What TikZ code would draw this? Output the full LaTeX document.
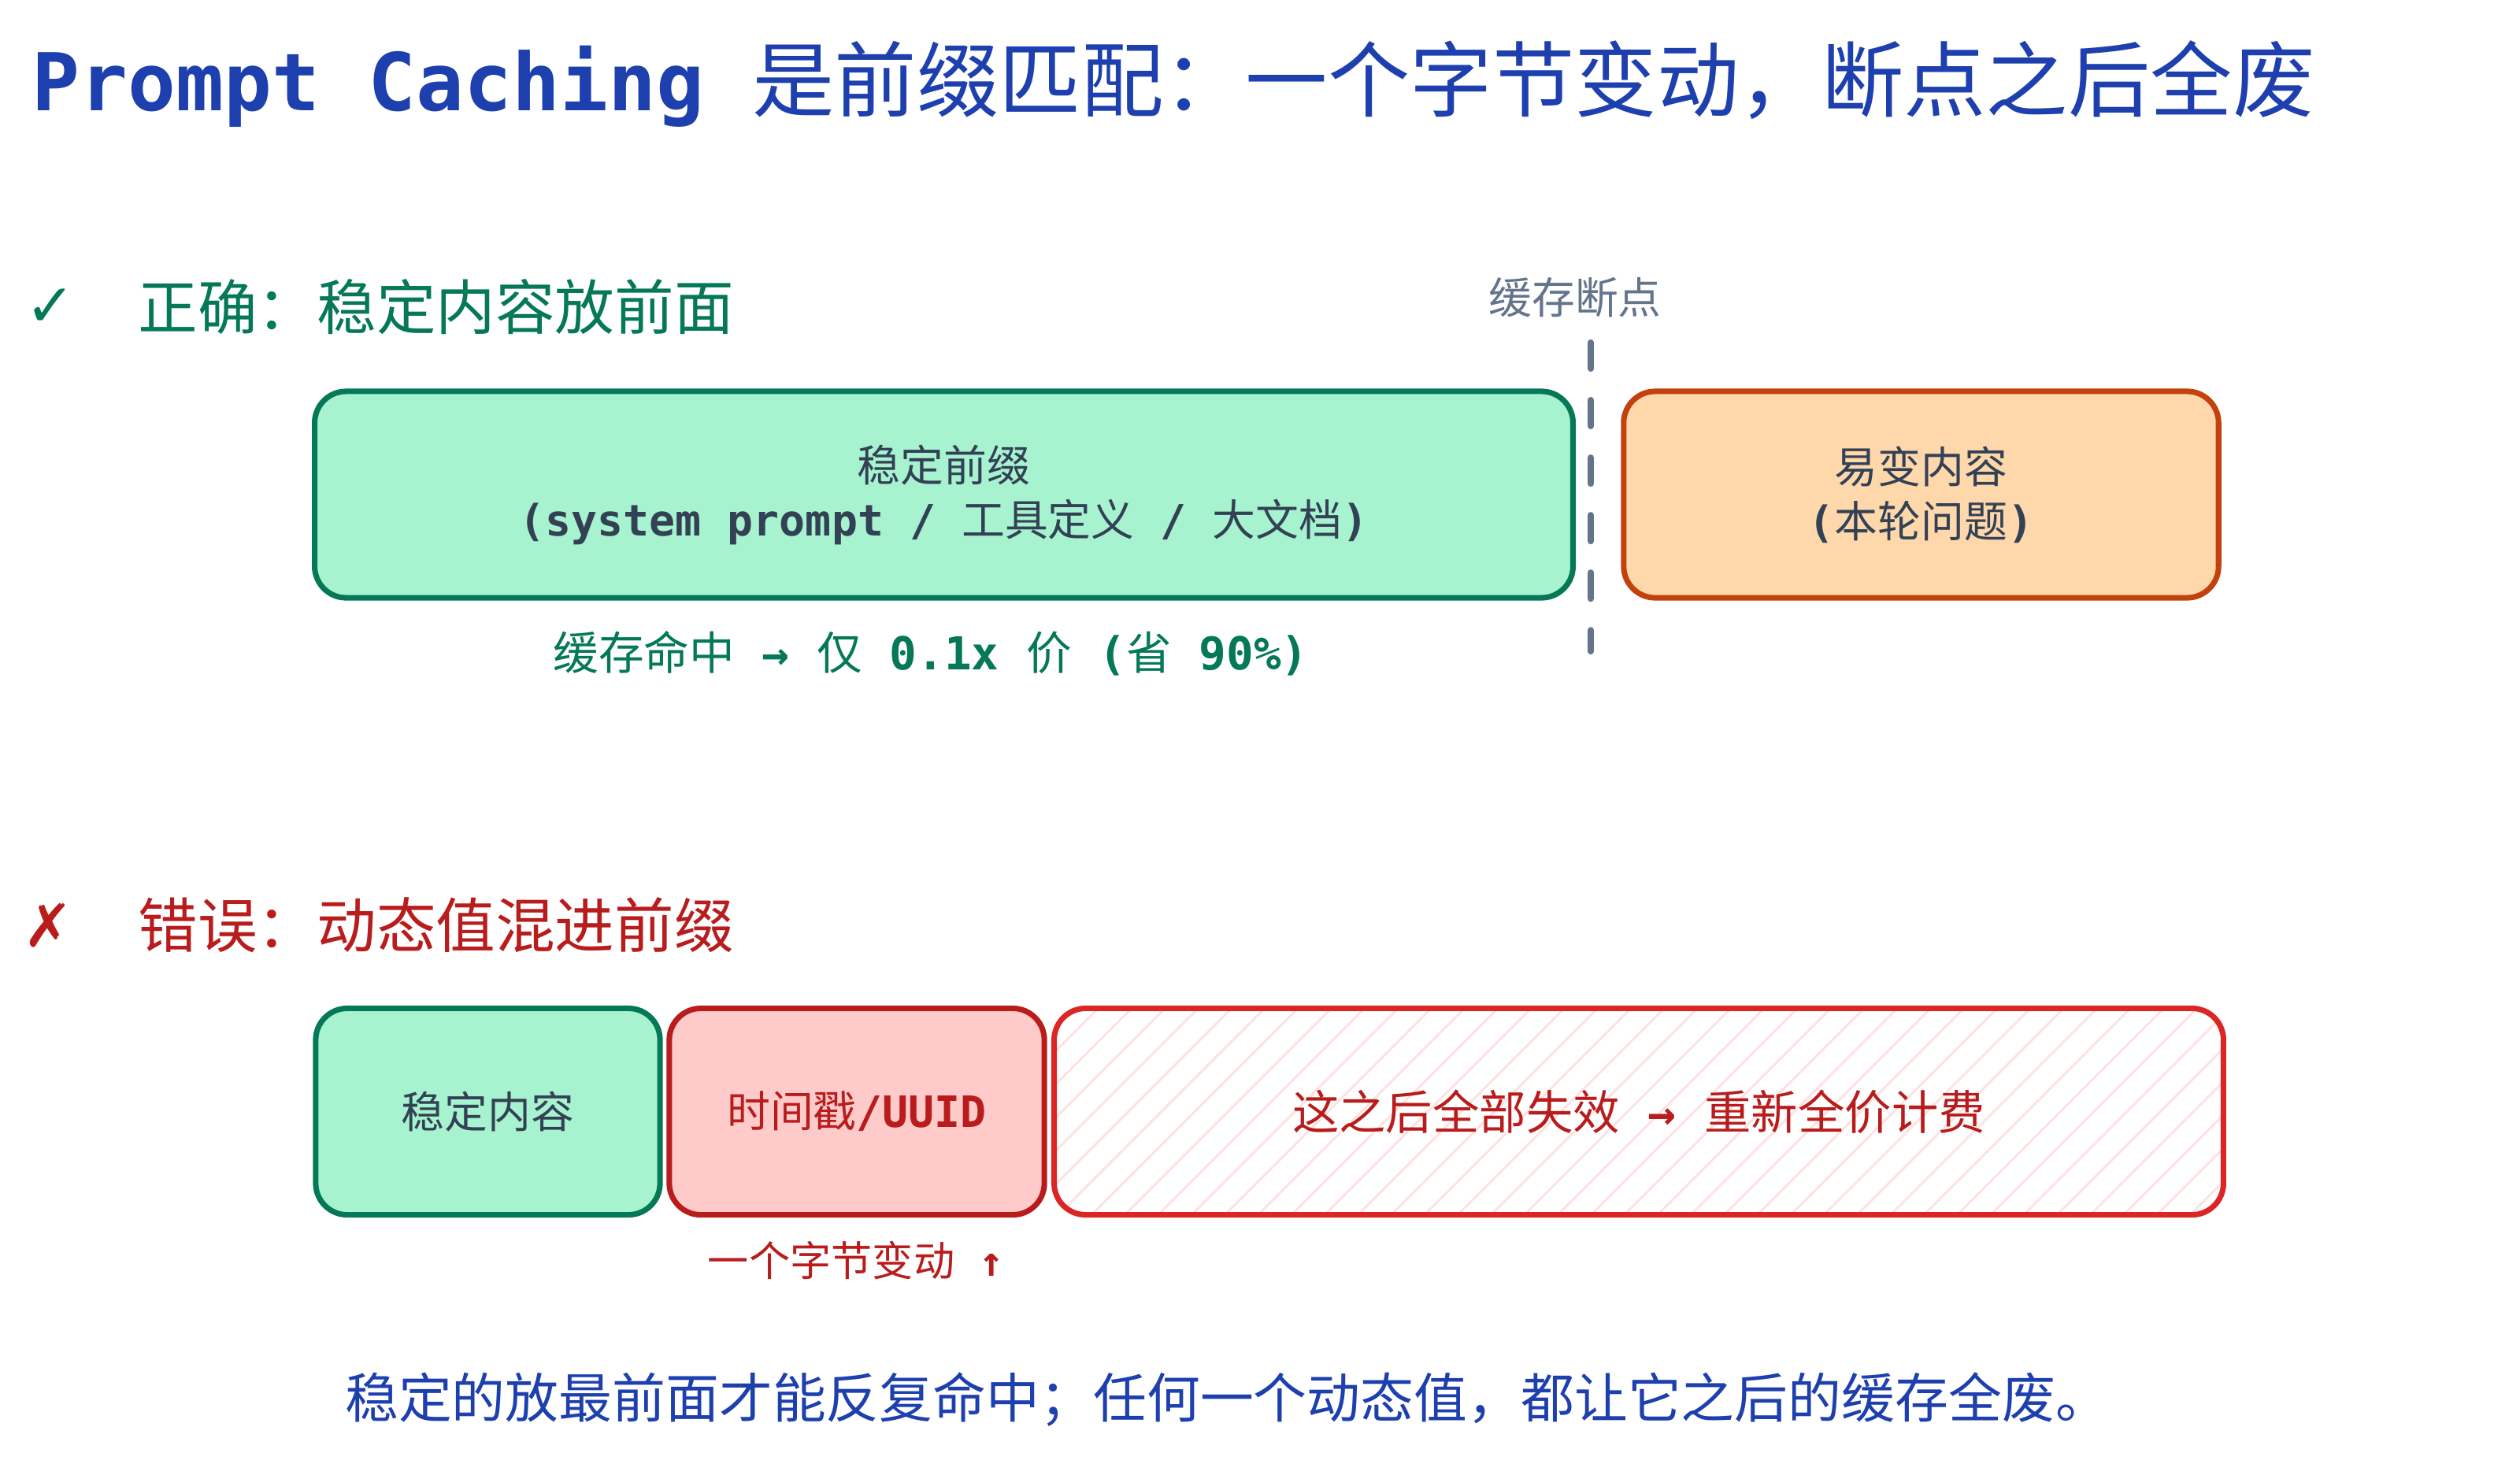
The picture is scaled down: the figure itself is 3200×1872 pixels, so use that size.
\documentclass[tikz,border=0pt]{standalone}
\usepackage{fontspec}
\setmainfont{Noto Sans CJK SC}[BoldFont={Noto Sans CJK SC}]
\setmonofont{DejaVu Sans Mono}
\newfontfamily\symfont{DejaVu Sans}
\usetikzlibrary{positioning,patterns.meta}
\definecolor{TitleBlue}{HTML}{1E40AF}
\definecolor{OkGreen}{HTML}{047857}
\definecolor{OkFill}{HTML}{A7F3D0}
\definecolor{VarOrange}{HTML}{C2410C}
\definecolor{VarFill}{HTML}{FED7AA}
\definecolor{BadRed}{HTML}{B91C1C}
\definecolor{BadFill}{HTML}{FECACA}
\definecolor{LostRed}{HTML}{DC2626}
\definecolor{HatchPink}{HTML}{FEE2E2}
\definecolor{Slate}{HTML}{64748B}
\definecolor{InkDark}{HTML}{334155}
\tikzset{
	blk/.style={draw,line width=2pt,rounded corners=0.4cm,minimum height=2.62cm,inner sep=0pt,
		align=center,text=InkDark,font=\fontsize{15.6}{19.6}\selectfont\bfseries},
	okblk/.style={blk,draw=OkGreen,fill=OkFill},
	varblk/.style={blk,draw=VarOrange,fill=VarFill},
	badblk/.style={blk,draw=BadRed,fill=BadFill,text=BadRed},
	lostblk/.style={blk,draw=LostRed,pattern={Lines[angle=45,distance=8.5pt,line width=0.85pt]},
		pattern color=HatchPink,text=BadRed,font=\fontsize{16.9}{20}\selectfont\bfseries},
	heading/.style={anchor=west,inner sep=0pt,font=\fontsize{21.5}{26}\selectfont\bfseries},
	sym/.style={inner sep=0pt,font=\fontsize{21.5}{26}\selectfont\symfont},
	note/.style={inner sep=0pt,font=\fontsize{15.6}{20}\selectfont\bfseries},
	cut/.style={draw=Slate,line width=2.3pt,dash pattern=on 0.33cm off 0.4cm,line cap=round},
}

\begin{document}
\begin{tikzpicture}[x=0.01cm,y=-0.01cm]
	\useasboundingbox (0,0) rectangle (3200,1872);
	% title
	\node[anchor=base west,inner sep=0pt,text=TitleBlue,font=\fontsize{28.8}{34}\selectfont\bfseries] (title) at (40,140)
		{\texttt{Prompt Caching }{\fontsize{29.7}{34}\selectfont 是前缀匹配：一个字节变动，断点之后全废}};

	% right way
	\node[sym,text=OkGreen] (okmark) at (64,391) {✓};
	\node[heading,text=OkGreen] (okhead) at (175,390) {正确：稳定内容放前面};
	\node[okblk,minimum width=15.97cm] (prefix) at (1198.5,628)
		{稳定前缀\\\texttt{(system prompt / }工具定义\texttt{ / }大文档\texttt{)}};
	\node[varblk,minimum width=7.55cm] (volatile) at (2439.5,628)
		{易变内容\\\texttt{(}本轮问题\texttt{)}};
	\coordinate (bptop) at (2020,435);
	\coordinate (bpbot) at (2020,827);
	\draw[cut] (bptop) -- (bpbot);
	\node[note,text=Slate] (bplabel) at (2000,378) {缓存断点};
	\node[note,text=OkGreen,font=\fontsize{16.4}{20}\selectfont\bfseries] (hitnote) at (1182,830)
		{缓存命中\texttt{ → }仅\texttt{ 0.1x }价\texttt{ (}省\texttt{ 90\%)}};

	% wrong way
	\node[sym,text=BadRed] (badmark) at (61,1175) {✗};
	\node[heading,text=BadRed] (badhead) at (175,1175) {错误：动态值混进前缀};
	\node[okblk,minimum width=4.37cm] (stable) at (619.5,1411.5) {稳定内容};
	\node[badblk,minimum width=4.76cm] (stamp) at (1088,1411.5) {时间戳\texttt{/UUID}};
	\node[lostblk,minimum width=14.84cm] (lost) at (2081,1411.5)
		{这之后全部失效\texttt{ → }重新全价计费};
	\node[note,text=BadRed,font=\fontsize{14.85}{18}\selectfont\bfseries] (bytenote) at (1087,1600)
		{一个字节变动\texttt{ ↑}};

	% summary
	\node[inner sep=0pt,text=TitleBlue,font=\fontsize{19.3}{24}\selectfont] (summary) at (1558,1777)
		{稳定的放最前面才能反复命中；任何一个动态值，都让它之后的缓存全废。};
\end{tikzpicture}
\end{document}
